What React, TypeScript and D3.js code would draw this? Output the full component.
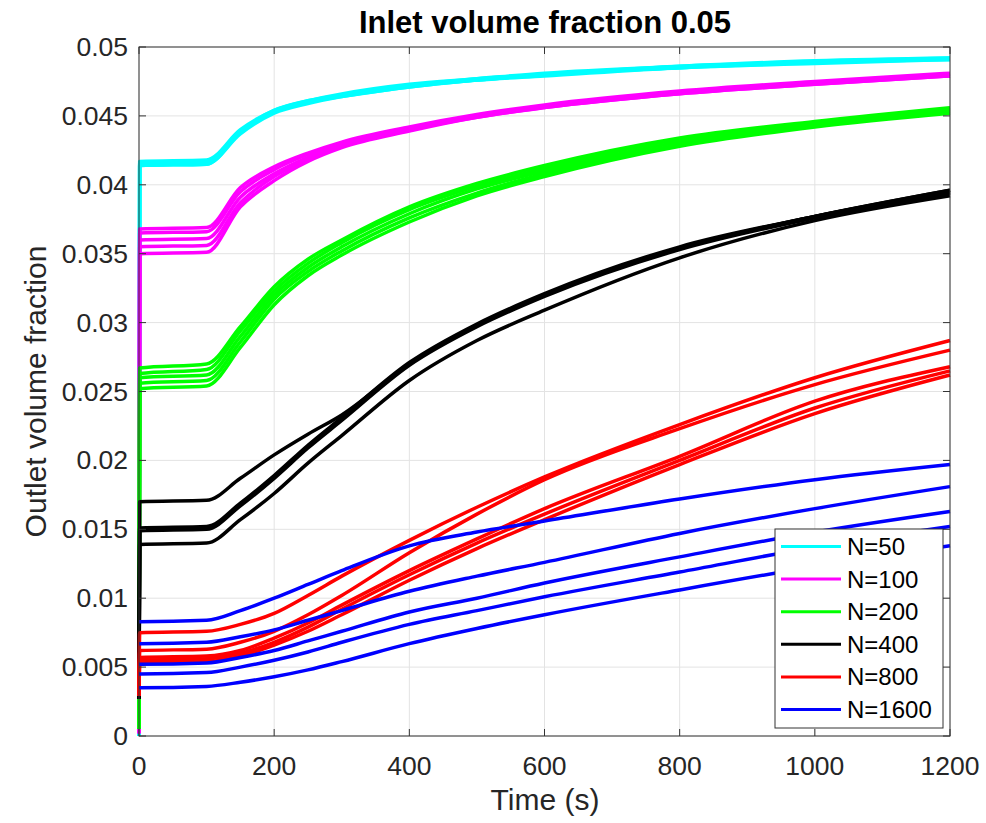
import React from "react";
import * as d3 from "d3";

const times = [0, 1, 100, 150, 200, 250, 300, 400, 500, 600, 800, 1000, 1200];

const n50 = [
  [0, 0.0417, 0.0418, 0.044, 0.0454, 0.0461, 0.0466, 0.0473, 0.0477, 0.0481, 0.0486, 0.049, 0.0492],
  [0, 0.0416, 0.0417, 0.0439, 0.0454, 0.0461, 0.0465, 0.0472, 0.0477, 0.048, 0.0486, 0.0489, 0.0492],
  [0, 0.0415, 0.0416, 0.0439, 0.0453, 0.046, 0.0465, 0.0472, 0.0476, 0.048, 0.0485, 0.0489, 0.0491],
  [0, 0.0414, 0.0415, 0.0438, 0.0453, 0.046, 0.0464, 0.0471, 0.0476, 0.048, 0.0485, 0.0489, 0.0491],
  [0, 0.0414, 0.0415, 0.0437, 0.0452, 0.0459, 0.0464, 0.0471, 0.0476, 0.0479, 0.0485, 0.0488, 0.0491],
];

const n100 = [
  [0.0002, 0.0368, 0.0369, 0.0398, 0.0413, 0.0423, 0.0431, 0.0442, 0.0451, 0.0458, 0.0468, 0.0475, 0.0481],
  [0.0002, 0.0365, 0.0366, 0.0395, 0.0411, 0.0422, 0.043, 0.0441, 0.045, 0.0457, 0.0467, 0.0474, 0.048],
  [0.0002, 0.036, 0.0361, 0.0391, 0.0408, 0.042, 0.0429, 0.0441, 0.045, 0.0457, 0.0467, 0.0474, 0.048],
  [0.0002, 0.0355, 0.0356, 0.0387, 0.0406, 0.0418, 0.0428, 0.044, 0.0449, 0.0456, 0.0466, 0.0473, 0.0479],
  [0.0002, 0.035, 0.0351, 0.0384, 0.0403, 0.0417, 0.0427, 0.0439, 0.0449, 0.0456, 0.0466, 0.0473, 0.0479],
];

const n200 = [
  [0.0005, 0.0267, 0.027, 0.0297, 0.0326, 0.0346, 0.036, 0.0384, 0.0401, 0.0414, 0.0434, 0.0446, 0.0456],
  [0.0005, 0.0263, 0.0266, 0.0294, 0.0323, 0.0343, 0.0358, 0.0382, 0.0399, 0.0412, 0.0433, 0.0445, 0.0455],
  [0.0005, 0.026, 0.0262, 0.029, 0.032, 0.034, 0.0355, 0.0379, 0.0397, 0.041, 0.0431, 0.0444, 0.0454],
  [0.0005, 0.0256, 0.0258, 0.0286, 0.0317, 0.0337, 0.0352, 0.0376, 0.0394, 0.0408, 0.0429, 0.0443, 0.0453],
  [0.0005, 0.0252, 0.0254, 0.0282, 0.0313, 0.0334, 0.0349, 0.0373, 0.0392, 0.0406, 0.0428, 0.0442, 0.0452],
];

const n400 = [
  [0.0027, 0.017, 0.0171, 0.0187, 0.0204, 0.0219, 0.0233, 0.027, 0.0298, 0.032, 0.0354, 0.0377, 0.0396],
  [0.0027, 0.0151, 0.0152, 0.0169, 0.0189, 0.0211, 0.0231, 0.0271, 0.0299, 0.0321, 0.0355, 0.0377, 0.0396],
  [0.0027, 0.015, 0.0151, 0.0168, 0.0188, 0.021, 0.023, 0.027, 0.0298, 0.032, 0.0354, 0.0377, 0.0395],
  [0.0027, 0.0149, 0.015, 0.0167, 0.0187, 0.0209, 0.0229, 0.0269, 0.0297, 0.0319, 0.0353, 0.0376, 0.0394],
  [0.0027, 0.0139, 0.014, 0.0157, 0.0176, 0.0198, 0.0218, 0.0258, 0.0287, 0.0309, 0.0347, 0.0374, 0.0392],
];

const n800 = [
  [0.0029, 0.0075, 0.0076, 0.0081, 0.0089, 0.0102, 0.0116, 0.0142, 0.0166, 0.0188, 0.0226, 0.026, 0.0287],
  [0.0029, 0.0062, 0.0063, 0.0068, 0.0076, 0.0088, 0.0102, 0.0133, 0.0161, 0.0186, 0.0223, 0.0255, 0.028],
  [0.0029, 0.0057, 0.0058, 0.0062, 0.0071, 0.0082, 0.0095, 0.012, 0.0143, 0.0165, 0.0203, 0.0243, 0.0268],
  [0.0029, 0.0055, 0.0056, 0.006, 0.0068, 0.0079, 0.0092, 0.0117, 0.014, 0.0161, 0.02, 0.0238, 0.0265],
  [0.0029, 0.0053, 0.0054, 0.0058, 0.0066, 0.0076, 0.0088, 0.0113, 0.0136, 0.0157, 0.0197, 0.0234, 0.0262],
];

const n1600 = [
  [0.0083, 0.0083, 0.0084, 0.0091, 0.01, 0.011, 0.012, 0.0138, 0.0148, 0.0156, 0.0172, 0.0186, 0.0197],
  [0.0067, 0.0067, 0.0068, 0.0072, 0.0077, 0.0084, 0.0091, 0.0105, 0.0116, 0.0126, 0.0147, 0.0165, 0.0181],
  [0.0052, 0.0052, 0.0053, 0.0057, 0.0062, 0.0069, 0.0076, 0.009, 0.01, 0.0111, 0.013, 0.0148, 0.0163],
  [0.0045, 0.0045, 0.0046, 0.005, 0.0055, 0.0061, 0.0068, 0.0081, 0.0091, 0.0101, 0.0119, 0.0137, 0.0152],
  [0.0035, 0.0035, 0.0036, 0.0039, 0.0043, 0.0048, 0.0054, 0.0067, 0.0078, 0.0088, 0.0106, 0.0123, 0.0138],
];

const seriesNames = ["N=50", "N=100", "N=200", "N=400", "N=800", "N=1600"];
const seriesColors = ["#00ffff", "#ff00ff", "#00ff00", "#000000", "#ff0000", "#0000ff"];
const groups = [n50, n100, n200, n400, n800, n1600];

const xTicks = [0, 200, 400, 600, 800, 1000, 1200];
const yTicks = [0, 0.005, 0.01, 0.015, 0.02, 0.025, 0.03, 0.035, 0.04, 0.045, 0.05];
const yTickLabels = ["0", "0.005", "0.01", "0.015", "0.02", "0.025", "0.03", "0.035", "0.04", "0.045", "0.05"];

const W = 986;
const H = 823;
const L = 139, R = 950, T = 47, B = 736;
const FONT = "'Liberation Sans', Arial, Helvetica, sans-serif";
const AX = "#333333";
const GRID = "#e3e3e3";

export default function App() {
  const x = d3.scaleLinear().domain([0, 1200]).range([L, R]);
  const y = d3.scaleLinear().domain([0, 0.05]).range([B, T]);
  const line = d3
    .line<number>()
    .x((_, i) => x(times[i]))
    .y((v) => y(v))
    .curve(d3.curveMonotoneX);

  const tick = 7;
  const legX = 775, legY = 529, legW = 168, legH = 199;
  const rowH = 32.6;

  return (
    <svg width={W} height={H} style={{ position: "absolute", left: 0, top: 0, background: "#fff" }}>
      <rect x={0} y={0} width={W} height={H} fill="#fff" />
      {xTicks.map((t) => (
        <line key={"gx" + t} x1={x(t)} x2={x(t)} y1={T} y2={B} stroke={GRID} strokeWidth={1} />
      ))}
      {yTicks.map((t) => (
        <line key={"gy" + t} x1={L} x2={R} y1={y(t)} y2={y(t)} stroke={GRID} strokeWidth={1} />
      ))}
      {groups.map((g, gi) =>
        g.map((row, ri) => (
          <path
            key={`s${gi}-${ri}`}
            d={line(row) || ""}
            fill="none"
            stroke={seriesColors[gi]}
            strokeWidth={3.5}
            strokeLinejoin="round"
          />
        ))
      )}
      <rect x={L} y={T} width={R - L} height={B - T} fill="none" stroke={AX} strokeWidth={1} />
      {xTicks.map((t) => (
        <g key={"tx" + t}>
          <line x1={x(t)} x2={x(t)} y1={B} y2={B - tick} stroke={AX} />
          <line x1={x(t)} x2={x(t)} y1={T} y2={T + tick} stroke={AX} />
          <text x={x(t)} y={775} textAnchor="middle" fontFamily={FONT} fontSize={26.5} fill="#262626">
            {t}
          </text>
        </g>
      ))}
      {yTicks.map((t, i) => (
        <g key={"ty" + t}>
          <line x1={L} x2={L + tick} y1={y(t)} y2={y(t)} stroke={AX} />
          <line x1={R} x2={R - tick} y1={y(t)} y2={y(t)} stroke={AX} />
          <text x={128} y={y(t) + 9} textAnchor="end" fontFamily={FONT} fontSize={26.5} fill="#262626">
            {yTickLabels[i]}
          </text>
        </g>
      ))}
      <text x={545} y={33} textAnchor="middle" fontFamily={FONT} fontSize={31} fontWeight="bold" fill="#000">
        Inlet volume fraction 0.05
      </text>
      <text x={545} y={810} textAnchor="middle" fontFamily={FONT} fontSize={30} fill="#262626">
        Time (s)
      </text>
      <text
        transform={`translate(46, ${(T + B) / 2}) rotate(-90)`}
        textAnchor="middle"
        fontFamily={FONT}
        fontSize={30}
        fill="#262626"
      >
        Outlet volume fraction
      </text>
      <rect x={legX} y={legY} width={legW} height={legH} fill="#fff" stroke={AX} strokeWidth={1} />
      {seriesNames.map((n, i) => {
        const cy = legY + 17.5 + i * rowH;
        return (
          <g key={"lg" + n}>
            <line x1={781} x2={841} y1={cy} y2={cy} stroke={seriesColors[i]} strokeWidth={3} />
            <text x={847} y={cy + 8.5} fontFamily={FONT} fontSize={24} fill="#000">
              {n}
            </text>
          </g>
        );
      })}
    </svg>
  );
}
